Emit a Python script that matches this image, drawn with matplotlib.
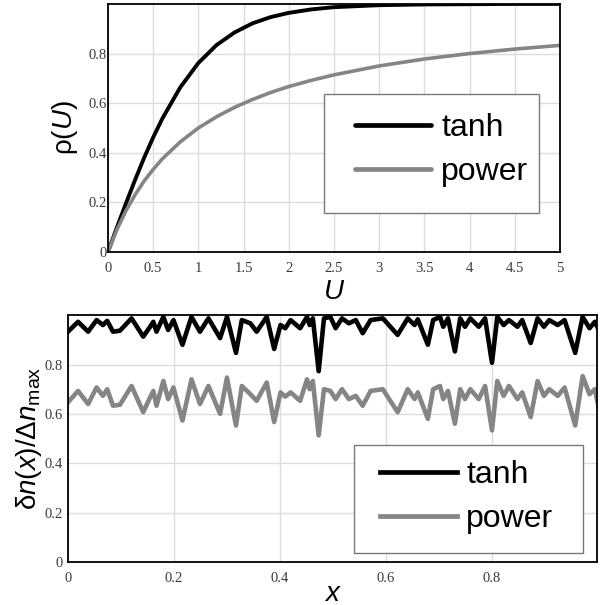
import matplotlib
matplotlib.use("Agg")
import matplotlib.pyplot as plt
from matplotlib.patches import Rectangle

# ---- data ----
u_vals = [0, 0.1, 0.2, 0.3, 0.4, 0.5, 0.6, 0.8, 1.0, 1.2, 1.4, 1.6, 1.8,
          2.0, 2.25, 2.5, 3.0, 3.5, 4.0, 4.5, 5.0]
rho_tanh = [0, 0.10, 0.197, 0.291, 0.380, 0.462, 0.537, 0.664, 0.762, 0.834,
            0.885, 0.922, 0.947, 0.964, 0.978, 0.987, 0.995, 0.998, 0.999,
            1.0, 1.0]
rho_power = [0, 0.091, 0.167, 0.231, 0.286, 0.333, 0.375, 0.444, 0.5, 0.545,
             0.583, 0.615, 0.643, 0.667, 0.692, 0.714, 0.75, 0.778, 0.8,
             0.818, 0.833]

x_vals = [0, 0.019, 0.038, 0.054, 0.066, 0.074, 0.085, 0.098, 0.120, 0.142,
          0.155, 0.161, 0.167, 0.180, 0.189, 0.199, 0.216, 0.233, 0.249,
          0.265, 0.287, 0.300, 0.317, 0.328, 0.344, 0.356, 0.375, 0.389,
          0.401, 0.410, 0.420, 0.438, 0.451, 0.456, 0.462, 0.473, 0.483,
          0.495, 0.505, 0.517, 0.530, 0.543, 0.556, 0.571, 0.594, 0.622,
          0.641, 0.654, 0.660, 0.679, 0.689, 0.702, 0.708, 0.717, 0.730,
          0.740, 0.749, 0.759, 0.775, 0.787, 0.800, 0.810, 0.822, 0.832,
          0.848, 0.857, 0.873, 0.886, 0.898, 0.908, 0.924, 0.937, 0.957,
          0.971, 0.984, 0.994, 1.0]
dn_tanh = [0.933, 0.973, 0.933, 0.98, 0.96, 0.977, 0.933, 0.937, 0.987, 0.913,
           0.953, 0.973, 0.933, 0.993, 0.94, 0.98, 0.88, 0.993, 0.933,
           0.987, 0.907, 0.993, 0.847, 0.98, 0.967, 0.933, 0.993, 0.863,
           0.96, 0.947, 0.98, 0.947, 0.993, 0.96, 0.987, 0.773, 0.987,
           0.993, 0.947, 0.987, 0.967, 0.98, 0.927, 0.98, 0.987, 0.92,
           0.987, 0.96, 0.983, 0.88, 0.98, 0.993, 0.953, 0.987, 0.853,
           0.987, 0.953, 0.987, 0.953, 0.987, 0.807, 0.993, 0.96, 0.98,
           0.953, 0.98, 0.887, 0.987, 0.953, 0.98, 0.96, 0.98, 0.847,
           0.993, 0.947, 0.973, 0.947]
dn_power = [0.647, 0.693, 0.64, 0.707, 0.673, 0.7, 0.633, 0.637, 0.713, 0.607,
            0.667, 0.693, 0.633, 0.733, 0.66, 0.707, 0.573, 0.74, 0.64,
            0.713, 0.6, 0.747, 0.553, 0.713, 0.68, 0.653, 0.727, 0.567,
            0.687, 0.67, 0.687, 0.653, 0.74, 0.70, 0.733, 0.513, 0.7,
            0.693, 0.66, 0.70, 0.66, 0.673, 0.633, 0.693, 0.7, 0.607,
            0.7, 0.66, 0.687, 0.58, 0.70, 0.713, 0.66, 0.693, 0.56,
            0.70, 0.66, 0.70, 0.66, 0.713, 0.533, 0.733, 0.673, 0.713,
            0.66, 0.687, 0.587, 0.733, 0.673, 0.70, 0.673, 0.707, 0.553,
            0.753, 0.68, 0.7, 0.64]

u_ticks = [0, 0.5, 1, 1.5, 2, 2.5, 3, 3.5, 4, 4.5, 5]
u_labels = ["0", "0.5", "1", "1.5", "2", "2.5", "3", "3.5", "4", "4.5", "5"]
x_ticks = [0, 0.2, 0.4, 0.6, 0.8]
x_labels = ["0", "0.2", "0.4", "0.6", "0.8"]
y_ticks = [0, 0.2, 0.4, 0.6, 0.8]
y_labels = ["0", "0.2", "0.4", "0.6", "0.8"]
series_names = ["tanh", "power"]

BLACK = "#000000"
GRAY = "#858585"

plt.rcParams["mathtext.fontset"] = "custom"
plt.rcParams["mathtext.rm"] = "Liberation Sans"
plt.rcParams["mathtext.it"] = "Liberation Sans:italic"
plt.rcParams["font.family"] = ["Liberation Sans", "DejaVu Sans"]

fig = plt.figure(figsize=(6.08, 6.05), dpi=100)
ax1 = fig.add_axes([0.1776, 0.5835, 0.7434, 0.41])
ax2 = fig.add_axes([0.1118, 0.0711, 0.870, 0.408])


def style_axes(ax, xticks, xlabels, ypad):
    ax.set_xticks(xticks)
    ax.set_xticklabels(xlabels)
    ax.set_yticks(y_ticks)
    ax.set_yticklabels(y_labels)
    ax.tick_params(length=0, labelsize=10.5, labelcolor="#3a3a3a")
    ax.tick_params(axis="x", pad=7)
    ax.tick_params(axis="y", pad=ypad)
    for lab in ax.get_xticklabels() + ax.get_yticklabels():
        lab.set_family("Liberation Serif")
    ax.grid(True, color="#dcdcdc", lw=1.0)
    ax.set_axisbelow(True)
    for sp in ax.spines.values():
        sp.set_color("black")
        sp.set_linewidth(1.3)


# ---- top panel ----
ax1.plot(u_vals, rho_tanh, color=BLACK, lw=2.8, label=series_names[0],
         solid_capstyle="round")
ax1.plot(u_vals, rho_power, color=GRAY, lw=2.6, label=series_names[1],
         solid_capstyle="round")
ax1.set_xlim(0, 5)
ax1.set_ylim(0, 1.0)
style_axes(ax1, u_ticks, u_labels, ypad=1)
ax1.set_xlabel(r"$U$", fontsize=20, labelpad=3)
ax1.set_ylabel(r"$\mathrm{\rho}(U)$", fontsize=20, labelpad=6)
ax1.add_patch(Rectangle((0.478, 0.157), 0.476, 0.48, transform=ax1.transAxes,
                        fill=True, facecolor="white", edgecolor="#7a7a7a",
                        lw=1.0, zorder=3))
leg1 = ax1.legend(loc="center left", bbox_to_anchor=(0.546, 0.41),
                  frameon=False, fontsize=23, handlelength=2.4,
                  handletextpad=0.3, labelspacing=0.45, borderpad=0,
                  borderaxespad=0)
leg1.set_zorder(4)
for line in leg1.get_lines():
    line.set_linewidth(3.4)

# ---- bottom panel ----
ax2.plot(x_vals, dn_tanh, color=BLACK, lw=3.3, label=series_names[0],
         solid_joinstyle="round")
ax2.plot(x_vals, dn_power, color=GRAY, lw=3.3, label=series_names[1],
         solid_joinstyle="round")
ax2.set_xlim(0, 0.998)
ax2.set_ylim(0, 1.0)
style_axes(ax2, x_ticks, x_labels, ypad=4)
ax2.set_xlabel(r"$x$", fontsize=20, labelpad=-3)
ax2.set_ylabel(r"$\mathrm{\delta}n(x)/\mathrm{\Delta}n_{\mathrm{max}}$",
               fontsize=20, labelpad=0)
ax2.add_patch(Rectangle((0.541, 0.036), 0.433, 0.438, transform=ax2.transAxes,
                        fill=True, facecolor="white", edgecolor="#7a7a7a",
                        lw=1.0, zorder=3))
leg2 = ax2.legend(loc="center left", bbox_to_anchor=(0.590, 0.262),
                  frameon=False, fontsize=23, handlelength=2.4,
                  handletextpad=0.3, labelspacing=0.45, borderpad=0,
                  borderaxespad=0)
leg2.set_zorder(4)
for line in leg2.get_lines():
    line.set_linewidth(3.4)

fig.savefig("out.png", dpi=100)
